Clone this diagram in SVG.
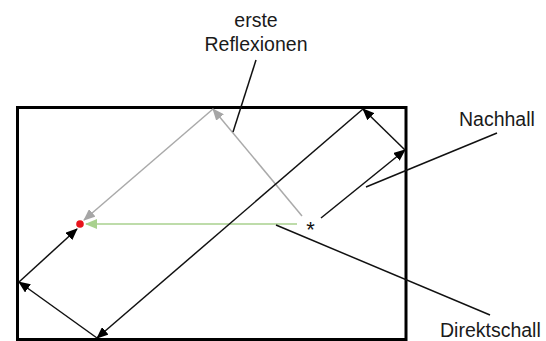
<svg xmlns="http://www.w3.org/2000/svg" width="546" height="341" viewBox="0 0 546 341">
<style>
.t{font-family:"Liberation Sans",Arial,sans-serif;font-size:19.5px;fill:#1a1a1a}
.b{stroke:#111;stroke-width:1.5;fill:none}
.g{stroke:#aaa;stroke-width:1.5;fill:none}
.gr{stroke:#a9d18e;stroke-width:1.5;fill:none}
</style>
<defs>
<marker id="ab" markerUnits="userSpaceOnUse" markerWidth="12" markerHeight="10" refX="11" refY="5" orient="auto"><path d="M0,0 L12,5 L0,10 z" fill="#000"/></marker>
<marker id="ag" markerUnits="userSpaceOnUse" markerWidth="12" markerHeight="10" refX="11" refY="5" orient="auto"><path d="M0,0 L12,5 L0,10 z" fill="#a6a6a6"/></marker>
<marker id="agr" markerUnits="userSpaceOnUse" markerWidth="12" markerHeight="10" refX="11" refY="5" orient="auto"><path d="M0,0 L12,5 L0,10 z" fill="#a9d18e"/></marker>
</defs>
<g id="room"><rect x="17.5" y="107.5" width="388.5" height="232" fill="none" stroke="#000" stroke-width="3"/></g>
<g id="connectors">
<line class="g" x1="302" y1="216" x2="213" y2="109" marker-end="url(#ag)"/>
<line class="g" x1="213" y1="109" x2="84" y2="220" marker-end="url(#ag)"/>
<line class="gr" x1="297" y1="224" x2="86" y2="224" marker-end="url(#agr)"/>
<line class="b" x1="321" y1="218" x2="405" y2="150" marker-end="url(#ab)"/>
<line class="b" x1="405" y1="150" x2="363" y2="109" marker-end="url(#ab)"/>
<line class="b" x1="363" y1="109" x2="97" y2="338" marker-end="url(#ab)"/>
<line class="b" x1="97" y1="338" x2="19" y2="282" marker-end="url(#ab)"/>
<line class="b" x1="19" y1="282" x2="77" y2="229" marker-end="url(#ab)"/>
<line class="b" x1="256" y1="60" x2="233" y2="132"/>
<line class="b" x1="497" y1="133" x2="366" y2="187"/>
<line class="b" x1="276" y1="225" x2="490" y2="315"/>
</g>
<g id="receiver"><circle cx="80" cy="224" r="3.8" fill="#e8141c"/></g>
<g id="source"><text x="310.5" y="237" text-anchor="middle" style="font-family:'Liberation Sans',Arial,sans-serif;font-size:22px;fill:#111">*</text></g>
<g id="label-erste"><text class="t" x="256" y="27" text-anchor="middle">erste</text><text class="t" x="256" y="51" text-anchor="middle">Reflexionen</text></g>
<g id="label-nachhall"><text class="t" x="459" y="126">Nachhall</text></g>
<g id="label-direkt"><text class="t" x="440" y="337">Direktschall</text></g>
</svg>
